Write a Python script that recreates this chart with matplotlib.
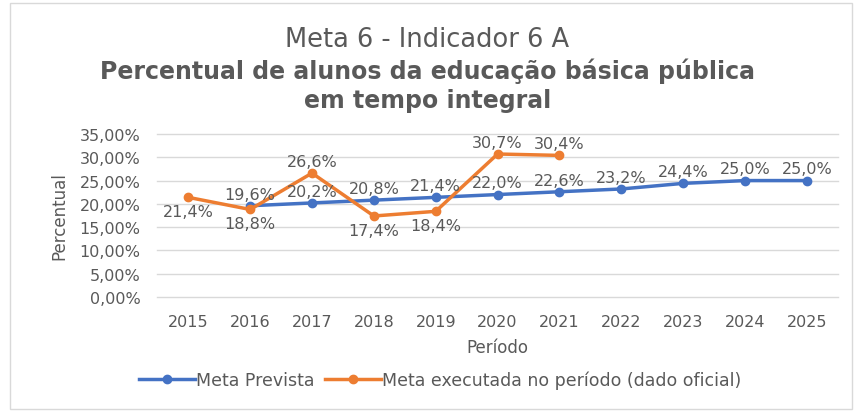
import matplotlib.pyplot as plt
from matplotlib.ticker import FuncFormatter

anos = ['2015', '2016', '2017', '2018', '2019', '2020', '2021', '2022', '2023', '2024', '2025']
meta_prevista = [None, 19.6, 20.2, 20.8, 21.4, 22.0, 22.6, 23.2, 24.4, 25.0, 25.0]
meta_executada = [21.4, 18.8, 26.6, 17.4, 18.4, 30.7, 30.4]
# rótulo acima (1) ou abaixo (-1) do ponto
pos_executada = [-1, -1, 1, -1, -1, 1, 1]

azul = '#4472C4'
laranja = '#ED7D31'
cinza = '#595959'

fig = plt.figure(figsize=(8.55, 4.14), dpi=100)
ax = fig.add_axes([0.184, 0.28, 0.796, 0.394])

x_prev = [i for i, v in enumerate(meta_prevista) if v is not None]
y_prev = [v for v in meta_prevista if v is not None]
x_exec = list(range(len(meta_executada)))

ax.plot(x_prev, y_prev, color=azul, lw=2.5, marker='o', ms=6, label='Meta Prevista', zorder=3)
ax.plot(x_exec, meta_executada, color=laranja, lw=2.5, marker='o', ms=6,
        label='Meta executada no período (dado oficial)', zorder=3)

def fmt(v):
    return f'{v:.1f}%'.replace('.', ',')

for x, y in zip(x_prev, y_prev):
    ax.annotate(fmt(y), (x, y), xytext=(0, 3), textcoords='offset points',
                ha='center', va='bottom', fontsize=11.5, color=cinza)
for x, y, p in zip(x_exec, meta_executada, pos_executada):
    if p > 0:
        ax.annotate(fmt(y), (x, y), xytext=(0, 3), textcoords='offset points',
                    ha='center', va='bottom', fontsize=11.5, color=cinza)
    else:
        ax.annotate(fmt(y), (x, y), xytext=(0, -5), textcoords='offset points',
                    ha='center', va='top', fontsize=11.5, color=cinza)

ax.set_xlim(-0.5, len(anos) - 0.5)
ax.set_ylim(0, 35)
ax.set_yticks(range(0, 36, 5))
ax.yaxis.set_major_formatter(FuncFormatter(lambda v, _: f'{v:.2f}%'.replace('.', ',')))
ax.set_xticks(range(len(anos)))
ax.set_xticklabels(anos)
ax.grid(axis='y', color='#D9D9D9', lw=1)
for gl in ax.get_ygridlines():
    gl.set_clip_on(False)
ax.set_axisbelow(True)
for s in ax.spines.values():
    s.set_visible(False)
ax.tick_params(length=0, colors=cinza, labelsize=11.5)
ax.tick_params(axis='x', pad=12)
ax.tick_params(axis='y', pad=12)
ax.set_xlabel('Período', color=cinza, fontsize=12, labelpad=7)
ax.set_ylabel('Percentual', color=cinza, fontsize=12, labelpad=8)

fig.text(0.5, 0.903, 'Meta 6 - Indicador 6 A', ha='center', va='center',
         fontsize=18.5, color=cinza)
fig.text(0.5, 0.793, 'Percentual de alunos da educação básica pública\nem tempo integral',
         ha='center', va='center', fontsize=17, fontweight='bold', color=cinza, linespacing=1.25)

fig.legend(loc='center', bbox_to_anchor=(0.515, 0.08), ncol=2, frameon=False,
           fontsize=12.5, labelcolor=cinza, handlelength=3.2, handletextpad=0.1, columnspacing=0.6)

fig.patches.append(plt.Rectangle((0.012, 0.01), 0.985, 0.98, transform=fig.transFigure,
                                 fill=False, edgecolor='#D9D9D9', lw=1))

fig.savefig('out.png', dpi=100)
